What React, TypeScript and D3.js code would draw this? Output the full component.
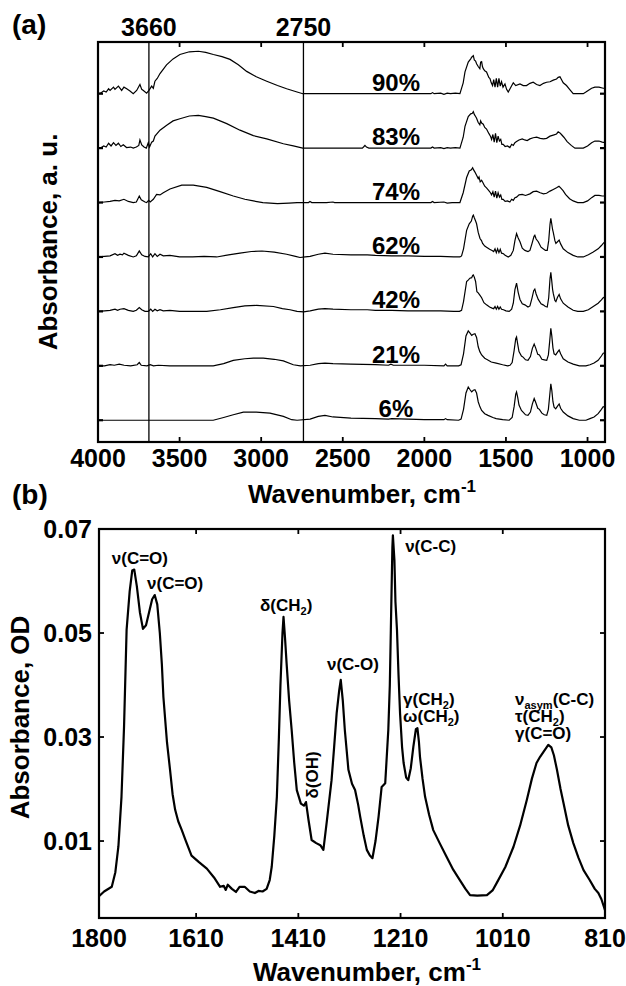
import React from "react";
import * as d3 from "d3";

type Pt = [number, number];

// ---------- Panel (a) data ----------
const waveTicksA = [4000, 3500, 3000, 2500, 2000, 1500, 1000];
const markerPositions = [3688, 2741];
const markerLabels = ["3660", "2750"];
const traceLabels = ["6%", "21%", "42%", "62%", "74%", "83%", "90%"];

const trace6: Pt[] = [
  [4000, 0], [3900, 0.0], [3800, 0.0], [3700, 0.0], [3600, 0.0], [3500, 0.0], [3400, 0.0], [3294, 0.0],
  [3230, 0.05], [3171, 0.1], [3109, 0.15], [3030, 0.15], [2946, 0.13], [2864, 0.07], [2813, 0.01], [2780, 0.0],
  [2700, 0.02], [2650, 0.07], [2609, 0.09], [2560, 0.06], [2450, 0.04], [2300, 0.03], [2220, 0.02], [2200, 0.03],
  [2100, 0.02], [2000, 0.01], [1880, 0.01], [1870, 0.03], [1860, 0.01], [1790, 0.0], [1775, 0.02], [1760, 0.2],
  [1745, 0.5], [1731, 0.61], [1720, 0.56], [1710, 0.52], [1700, 0.55], [1690, 0.56], [1680, 0.5], [1670, 0.34],
  [1660, 0.25], [1649, 0.18], [1630, 0.12], [1610, 0.09], [1580, 0.05], [1560, 0.03], [1520, 0.01], [1480, 0.0],
  [1462, 0.05], [1450, 0.25], [1440, 0.48], [1435, 0.52], [1428, 0.42], [1420, 0.28], [1405, 0.18], [1395, 0.15],
  [1380, 0.1], [1365, 0.09], [1350, 0.15], [1338, 0.3], [1327, 0.4], [1318, 0.33], [1305, 0.22], [1295, 0.2],
  [1280, 0.13], [1265, 0.1], [1250, 0.09], [1240, 0.2], [1232, 0.45], [1225, 0.67], [1219, 0.55], [1212, 0.34],
  [1205, 0.24], [1195, 0.21], [1184, 0.26], [1174, 0.3], [1165, 0.22], [1149, 0.15], [1120, 0.08], [1088, 0.03],
  [1050, 0.0], [1010, 0.0], [985, 0.03], [960, 0.06], [935, 0.12], [915, 0.2], [904, 0.25], [893, 0.24],
];

const trace21: Pt[] = [
  [4000, 0], [3960, 0.0], [3926, 0.02], [3900, 0.01], [3870, 0.03], [3840, 0.01], [3800, 0.0], [3760, 0.02],
  [3747, 0.06], [3735, 0.01], [3700, 0.0], [3680, 0.02], [3660, 0.0], [3630, 0.01], [3560, 0.0], [3400, 0.0],
  [3294, 0.0], [3230, 0.04], [3171, 0.1], [3100, 0.13], [3048, 0.14], [2987, 0.14], [2920, 0.12], [2864, 0.09],
  [2803, 0.02], [2760, 0.0], [2700, 0.01], [2650, 0.04], [2609, 0.05], [2560, 0.04], [2450, 0.03], [2300, 0.02],
  [2220, 0.01], [2205, 0.03], [2190, 0.01], [2100, 0.01], [2000, 0.01], [1880, 0.0], [1870, 0.03], [1860, 0.0],
  [1790, 0.0], [1775, 0.02], [1760, 0.22], [1745, 0.55], [1731, 0.64], [1720, 0.6], [1710, 0.56], [1700, 0.58],
  [1690, 0.59], [1680, 0.52], [1670, 0.35], [1660, 0.26], [1649, 0.2], [1630, 0.14], [1619, 0.12], [1590, 0.07],
  [1560, 0.05], [1520, 0.02], [1490, 0.0], [1475, 0.01], [1462, 0.06], [1450, 0.28], [1440, 0.5], [1435, 0.53],
  [1428, 0.4], [1420, 0.26], [1405, 0.18], [1395, 0.16], [1380, 0.11], [1365, 0.1], [1350, 0.17], [1338, 0.32],
  [1327, 0.4], [1318, 0.33], [1305, 0.21], [1295, 0.2], [1280, 0.12], [1265, 0.11], [1250, 0.1], [1240, 0.2],
  [1232, 0.45], [1225, 0.69], [1219, 0.55], [1212, 0.33], [1205, 0.22], [1195, 0.2], [1184, 0.25], [1174, 0.29],
  [1165, 0.22], [1149, 0.13], [1120, 0.07], [1088, 0.03], [1050, 0.0], [1010, 0.0], [985, 0.02], [960, 0.05],
  [935, 0.1], [915, 0.18], [904, 0.23], [893, 0.24],
];

const trace42: Pt[] = [
  [4000, 0], [3960, 0.01], [3926, 0.02], [3896, 0.04], [3880, 0.02], [3865, 0.04], [3841, 0.05], [3814, 0.02],
  [3784, 0.0], [3765, 0.02], [3747, 0.07], [3732, 0.03], [3712, 0.0], [3692, 0.0], [3677, 0.04], [3665, 0.0],
  [3651, 0.04], [3637, 0.01], [3620, 0.03], [3600, 0.01], [3559, 0.02], [3500, 0.0], [3420, 0.0], [3334, 0.0],
  [3250, 0.03], [3171, 0.07], [3100, 0.1], [3028, 0.11], [2925, 0.09], [2870, 0.05], [2823, 0.03], [2780, 0.0],
  [2740, -0.01], [2700, 0.01], [2650, 0.04], [2609, 0.05], [2560, 0.04], [2450, 0.03], [2350, 0.03], [2300, 0.02],
  [2200, 0.02], [2100, 0.01], [2000, 0.01], [1900, 0.01], [1820, 0.0], [1785, 0.0], [1772, 0.02], [1760, 0.18],
  [1741, 0.55], [1730, 0.58], [1721, 0.61], [1710, 0.62], [1704, 0.66], [1700, 0.67], [1694, 0.63], [1686, 0.55],
  [1678, 0.36], [1670, 0.34], [1660, 0.3], [1649, 0.25], [1635, 0.16], [1619, 0.12], [1600, 0.08], [1585, 0.06],
  [1575, 0.05], [1567, 0.09], [1559, 0.04], [1551, 0.09], [1543, 0.04], [1535, 0.08], [1527, 0.04], [1515, 0.03],
  [1500, 0.01], [1480, 0.0], [1465, 0.04], [1455, 0.15], [1445, 0.4], [1435, 0.52], [1425, 0.35], [1414, 0.22],
  [1400, 0.14], [1384, 0.12], [1365, 0.08], [1353, 0.1], [1340, 0.25], [1330, 0.38], [1323, 0.41], [1315, 0.32],
  [1302, 0.22], [1285, 0.14], [1272, 0.12], [1258, 0.09], [1247, 0.08], [1238, 0.25], [1230, 0.6], [1225, 0.72],
  [1220, 0.58], [1214, 0.4], [1210, 0.33], [1200, 0.2], [1194, 0.18], [1184, 0.26], [1174, 0.31], [1165, 0.23],
  [1149, 0.15], [1120, 0.08], [1088, 0.02], [1060, 0.0], [1026, 0.0], [995, 0.03], [965, 0.09], [935, 0.15],
  [915, 0.21], [904, 0.25], [893, 0.27],
];

const trace62: Pt[] = [
  [4000, 0], [3960, 0.01], [3926, 0.02], [3896, 0.06], [3880, 0.03], [3865, 0.05], [3850, 0.04], [3841, 0.07],
  [3814, 0.03], [3784, 0.0], [3765, 0.02], [3747, 0.11], [3732, 0.04], [3712, 0.01], [3692, 0.0], [3677, 0.06],
  [3665, 0.0], [3651, 0.06], [3637, 0.01], [3620, 0.05], [3600, 0.02], [3559, 0.03], [3500, 0.0], [3420, 0.0],
  [3350, 0.01], [3273, 0.0], [3200, 0.04], [3130, 0.07], [3060, 0.1], [2995, 0.11], [2920, 0.09], [2844, 0.05],
  [2790, 0.01], [2762, -0.01], [2730, 0.0], [2700, 0.01], [2650, 0.05], [2609, 0.07], [2560, 0.05], [2450, 0.04],
  [2350, 0.04], [2300, 0.03], [2200, 0.02], [2100, 0.02], [2000, 0.01], [1900, 0.01], [1820, 0.0], [1782, 0.0],
  [1772, 0.02], [1760, 0.15], [1741, 0.49], [1725, 0.61], [1712, 0.66], [1704, 0.75], [1700, 0.77], [1694, 0.72],
  [1686, 0.66], [1680, 0.61], [1670, 0.45], [1659, 0.34], [1650, 0.3], [1643, 0.25], [1630, 0.2], [1619, 0.18],
  [1600, 0.14], [1585, 0.12], [1575, 0.1], [1567, 0.15], [1559, 0.08], [1551, 0.15], [1543, 0.08], [1535, 0.14],
  [1527, 0.07], [1515, 0.06], [1505, 0.03], [1486, 0.0], [1470, 0.03], [1455, 0.12], [1445, 0.3], [1435, 0.43],
  [1425, 0.35], [1414, 0.28], [1400, 0.16], [1384, 0.12], [1365, 0.1], [1353, 0.12], [1340, 0.25], [1328, 0.38],
  [1323, 0.4], [1315, 0.33], [1302, 0.28], [1285, 0.18], [1272, 0.15], [1258, 0.12], [1247, 0.12], [1238, 0.3],
  [1230, 0.6], [1225, 0.71], [1220, 0.62], [1214, 0.5], [1210, 0.45], [1200, 0.3], [1194, 0.25], [1184, 0.28],
  [1174, 0.31], [1165, 0.24], [1149, 0.15], [1120, 0.08], [1088, 0.03], [1060, 0.0], [1026, 0.0], [995, 0.04],
  [965, 0.09], [935, 0.15], [915, 0.21], [904, 0.25], [893, 0.28],
];

const trace74: Pt[] = [
  [4000, 0], [3960, 0.01], [3926, 0.02], [3896, 0.04], [3870, 0.03], [3841, 0.06], [3814, 0.02], [3784, 0.0],
  [3765, 0.01], [3747, 0.12], [3735, 0.05], [3712, 0.01], [3702, 0.0], [3690, 0.04], [3680, 0.01], [3661, 0.06],
  [3641, 0.15], [3620, 0.14], [3600, 0.18], [3559, 0.25], [3487, 0.32], [3416, 0.32], [3334, 0.28], [3252, 0.2],
  [3171, 0.12], [3100, 0.06], [3048, 0.03], [2990, 0.0], [2900, -0.02], [2830, -0.01], [2780, 0.0], [2745, 0.0],
  [2710, 0.0], [2701, 0.02], [2690, 0.0], [2600, 0.0], [2560, 0.01], [2550, 0.0], [2400, 0.0], [2300, 0.0],
  [2000, 0.0], [1960, 0.0], [1950, 0.02], [1940, 0.0], [1880, 0.01], [1860, -0.01], [1830, 0.0], [1782, 0.0],
  [1762, 0.18], [1741, 0.46], [1725, 0.58], [1712, 0.6], [1704, 0.64], [1698, 0.6], [1690, 0.56], [1680, 0.5],
  [1670, 0.44], [1665, 0.47], [1658, 0.38], [1649, 0.41], [1640, 0.36], [1630, 0.3], [1619, 0.27], [1605, 0.22],
  [1595, 0.18], [1588, 0.14], [1580, 0.2], [1572, 0.1], [1564, 0.21], [1556, 0.08], [1548, 0.18], [1540, 0.1],
  [1532, 0.14], [1525, 0.06], [1517, 0.06], [1505, 0.02], [1490, 0.03], [1476, 0.01], [1465, 0.06], [1455, 0.04],
  [1445, 0.09], [1435, 0.1], [1420, 0.14], [1400, 0.15], [1380, 0.13], [1353, 0.16], [1333, 0.2], [1312, 0.21],
  [1290, 0.18], [1270, 0.16], [1251, 0.17], [1230, 0.21], [1210, 0.24], [1190, 0.27], [1175, 0.3], [1165, 0.27],
  [1150, 0.22], [1135, 0.15], [1110, 0.07], [1088, 0.03], [1060, 0.0], [1026, 0.0], [1000, 0.03], [975, 0.09],
  [955, 0.13], [930, 0.13], [910, 0.12], [893, 0.12],
];

const trace83: Pt[] = [
  [4000, 0], [3985, 0.0], [3965, 0.04], [3950, 0.02], [3935, 0.09], [3920, 0.04], [3905, 0.1], [3890, 0.05],
  [3875, 0.09], [3860, 0.03], [3845, 0.06], [3825, 0.01], [3800, 0.02], [3784, 0.0], [3765, 0.02], [3750, 0.05],
  [3743, 0.15], [3732, 0.06], [3718, 0.02], [3704, 0.0], [3692, 0.1], [3684, 0.02], [3671, 0.11], [3661, 0.13],
  [3651, 0.22], [3620, 0.33], [3579, 0.42], [3540, 0.5], [3498, 0.54], [3440, 0.59], [3385, 0.6], [3340, 0.58],
  [3293, 0.55], [3211, 0.45], [3130, 0.33], [3048, 0.23], [2966, 0.17], [2864, 0.08], [2803, 0.04], [2745, 0.0],
  [2500, 0.0], [2380, 0.0], [2370, 0.03], [2364, 0.05], [2355, 0.02], [2340, 0.0], [2000, 0.0], [1960, 0.0],
  [1950, 0.02], [1940, 0.0], [1900, 0.01], [1880, -0.01], [1860, 0.01], [1840, 0.0], [1810, 0.01], [1782, 0.0],
  [1762, 0.2], [1751, 0.4], [1731, 0.58], [1716, 0.63], [1706, 0.64], [1700, 0.67], [1694, 0.62], [1686, 0.58],
  [1680, 0.55], [1670, 0.47], [1660, 0.43], [1655, 0.5], [1649, 0.46], [1639, 0.44], [1630, 0.38], [1619, 0.35],
  [1605, 0.27], [1595, 0.22], [1588, 0.16], [1580, 0.25], [1572, 0.11], [1564, 0.27], [1556, 0.1], [1548, 0.22],
  [1540, 0.13], [1532, 0.16], [1525, 0.07], [1517, 0.07], [1505, 0.03], [1490, 0.04], [1476, 0.01], [1465, 0.07],
  [1455, 0.05], [1445, 0.1], [1435, 0.12], [1420, 0.15], [1400, 0.17], [1385, 0.15], [1370, 0.14], [1353, 0.17],
  [1333, 0.19], [1312, 0.2], [1290, 0.18], [1270, 0.17], [1251, 0.18], [1230, 0.22], [1210, 0.24], [1190, 0.26],
  [1180, 0.3], [1169, 0.28], [1160, 0.25], [1145, 0.2], [1125, 0.12], [1100, 0.05], [1077, 0.0], [1026, 0.0],
  [1000, 0.04], [975, 0.1], [955, 0.13], [930, 0.13], [910, 0.11], [893, 0.1],
];

const trace90: Pt[] = [
  [4000, 0], [3985, 0.01], [3965, 0.05], [3950, 0.03], [3935, 0.09], [3926, 0.06], [3905, 0.12], [3896, 0.08],
  [3875, 0.14], [3855, 0.06], [3841, 0.12], [3824, 0.09], [3804, 0.05], [3784, 0.0], [3763, 0.06], [3743, 0.17],
  [3732, 0.08], [3722, 0.06], [3702, 0.01], [3688, 0.06], [3671, 0.14], [3661, 0.1], [3651, 0.23], [3637, 0.28],
  [3620, 0.37], [3580, 0.53], [3540, 0.64], [3498, 0.72], [3440, 0.77], [3385, 0.78], [3340, 0.76], [3293, 0.72],
  [3240, 0.68], [3191, 0.63], [3140, 0.53], [3089, 0.41], [3030, 0.31], [2966, 0.23], [2900, 0.15], [2844, 0.09],
  [2790, 0.04], [2745, 0.0], [2400, 0.0], [2000, 0.0], [1960, 0.0], [1950, 0.02], [1940, 0.0], [1900, 0.01],
  [1880, -0.01], [1860, 0.01], [1840, 0.0], [1810, 0.01], [1782, 0.0], [1762, 0.2], [1751, 0.4], [1731, 0.58],
  [1716, 0.64], [1710, 0.67], [1700, 0.7], [1694, 0.62], [1686, 0.6], [1680, 0.55], [1670, 0.5], [1660, 0.46],
  [1655, 0.58], [1649, 0.59], [1644, 0.5], [1639, 0.46], [1630, 0.42], [1619, 0.4], [1605, 0.3], [1598, 0.28],
  [1590, 0.2], [1582, 0.15], [1575, 0.26], [1567, 0.12], [1559, 0.28], [1551, 0.12], [1543, 0.28], [1535, 0.14],
  [1527, 0.22], [1518, 0.12], [1506, 0.18], [1496, 0.08], [1486, 0.03], [1470, 0.12], [1455, 0.2], [1440, 0.15],
  [1414, 0.18], [1394, 0.15], [1374, 0.15], [1353, 0.19], [1333, 0.21], [1312, 0.17], [1292, 0.15], [1270, 0.19],
  [1251, 0.21], [1230, 0.22], [1210, 0.25], [1190, 0.27], [1180, 0.3], [1169, 0.31], [1160, 0.26], [1149, 0.2],
  [1129, 0.15], [1110, 0.08], [1088, 0.0], [1026, 0.0], [1010, 0.03], [996, 0.06], [975, 0.1], [955, 0.12],
  [930, 0.12], [904, 0.1], [893, 0.1],
];

const tracesA: Pt[][] = [trace6, trace21, trace42, trace62, trace74, trace83, trace90];

// ---------- Panel (b) data ----------
const waveTicksB = [1800, 1610, 1410, 1210, 1010, 810];
const odTicks = [0.01, 0.03, 0.05, 0.07];
const spectrumB: Pt[] = [
  [1800, -0.0006], [1790, 0.0003], [1775, 0.0012], [1768, 0.004], [1762, 0.009], [1756, 0.0185], [1751, 0.032],
  [1746, 0.0506], [1740, 0.058], [1735, 0.062], [1731, 0.0622], [1726, 0.059], [1720, 0.054], [1714, 0.0508],
  [1708, 0.0515], [1702, 0.054], [1696, 0.0565], [1691, 0.0573], [1686, 0.0555], [1681, 0.05], [1677, 0.044],
  [1674, 0.0377], [1667, 0.029], [1661, 0.0237], [1656, 0.019], [1651, 0.016], [1645, 0.0138], [1638, 0.0121],
  [1630, 0.01], [1619, 0.0072], [1605, 0.006], [1589, 0.0047], [1575, 0.003], [1563, 0.0012], [1556, 0.0014],
  [1552, 0.0006], [1548, 0.0016], [1540, 0.0008], [1532, 0.0002], [1525, 0.0012], [1515, 0.0012], [1505, 0.0003],
  [1495, 0.0], [1488, 0.0004], [1480, 0.0003], [1472, 0.0008], [1466, 0.0025], [1462, 0.0051], [1457, 0.011],
  [1452, 0.0185], [1448, 0.03], [1445, 0.04], [1441, 0.05], [1439, 0.0531], [1436, 0.049], [1433, 0.0442],
  [1428, 0.037], [1423, 0.0313], [1418, 0.025], [1413, 0.0198], [1405, 0.0172], [1399, 0.0168], [1395, 0.0175],
  [1390, 0.014], [1384, 0.0102], [1375, 0.0096], [1367, 0.0092], [1361, 0.0083], [1354, 0.014], [1345, 0.0217],
  [1340, 0.028], [1335, 0.0346], [1330, 0.039], [1327, 0.041], [1323, 0.037], [1319, 0.0313], [1312, 0.0237],
  [1305, 0.021], [1299, 0.0198], [1293, 0.017], [1289, 0.0147], [1282, 0.011], [1276, 0.0083], [1270, 0.0072],
  [1265, 0.0067], [1259, 0.01], [1253, 0.0147], [1247, 0.0204], [1240, 0.0211], [1234, 0.0313], [1231, 0.04],
  [1229, 0.0506], [1226, 0.0665], [1225, 0.0688], [1222, 0.064], [1220, 0.056], [1217, 0.0506], [1214, 0.042],
  [1211, 0.0346], [1207, 0.028], [1204, 0.025], [1199, 0.0222], [1195, 0.0217], [1190, 0.024], [1185, 0.0281],
  [1180, 0.0315], [1177, 0.0317], [1174, 0.029], [1172, 0.0262], [1167, 0.022], [1162, 0.0185], [1154, 0.015],
  [1146, 0.0121], [1133, 0.0095], [1120, 0.007], [1107, 0.0045], [1094, 0.0025], [1083, 0.0008], [1074, -0.0004],
  [1060, -0.0005], [1041, -0.0004], [1030, 0.0005], [1022, 0.0019], [1005, 0.005], [989, 0.0089], [976, 0.013],
  [963, 0.0179], [953, 0.022], [944, 0.025], [937, 0.0262], [930, 0.0272], [921, 0.0285], [915, 0.028],
  [910, 0.0265], [904, 0.0237], [897, 0.02], [891, 0.0172], [882, 0.013], [872, 0.0096], [862, 0.0068],
  [852, 0.0044], [840, 0.0025], [830, 0.0008], [823, 0.0], [817, -0.0012], [810, -0.0033],
];

const FONT = "'Liberation Sans', Arial, Helvetica, sans-serif";

export default function App() {
  // panel (a) geometry
  const aL = 98, aR = 605, aT = 42, aB = 442;
  const xA = d3.scaleLinear().domain([4000, 893]).range([aL, aR]);
  const yA = d3.scaleLinear().domain([-0.4, 6.95]).range([aB, aT]);

  // panel (b) geometry
  const bL = 99, bR = 605, bT = 529, bB = 918;
  const xB = d3.scaleLinear().domain([1800, 810]).range([bL, bR]);
  const yB = d3.scaleLinear().domain([-0.0048, 0.07]).range([bB, bT]);

  const lineA = (data: Pt[], off: number) =>
    d3.line<Pt>().x((d) => xA(d[0])).y((d) => yA(d[1] + off))(data) || "";
  const lineB = d3.line<Pt>().x((d) => xB(d[0])).y((d) => yB(d[1]))(spectrumB) || "";

  const tickLen = 5;
  const tickSize = 25;
  const titleSize = 26;
  const annSize = 17;
  const subSize = 11;

  return (
    <svg width={626} height={986} style={{ display: "block", position: "absolute", left: 0, top: 0 }}
      fontFamily={FONT} fontWeight="bold">
      <rect x={0} y={0} width={626} height={986} fill="#fff" />
      {/* ================= Panel (a) ================= */}
      <text x={12} y={34} fontSize={28}>(a)</text>
      <defs>
        <clipPath id="clipA"><rect x={aL} y={aT} width={aR - aL} height={aB - aT} /></clipPath>
        <clipPath id="clipB"><rect x={bL} y={bT} width={bR - bL} height={bB - bT} /></clipPath>
      </defs>
      <g clipPath="url(#clipA)">
        {tracesA.map((t, i) => (
          <path key={i} d={lineA(t, i)} fill="none" stroke="#000" strokeWidth={1.2} strokeLinejoin="miter" />
        ))}
      </g>
      {markerPositions.map((p, i) => (
        <g key={i}>
          <line x1={xA(p)} x2={xA(p)} y1={aT} y2={aB} stroke="#000" strokeWidth={1.3} />
          <text x={xA(p)} y={36} fontSize={tickSize} textAnchor="middle">{markerLabels[i]}</text>
        </g>
      ))}
      {traceLabels.map((lab, i) => (
        <text key={lab} x={xA(2174)} y={yA(i) - 3} fontSize={24} textAnchor="middle">{lab}</text>
      ))}
      {/* baseline ticks */}
      {tracesA.map((_, i) => (
        <g key={i}>
          <line x1={aL} x2={aL + tickLen} y1={yA(i)} y2={yA(i)} stroke="#000" strokeWidth={2.2} />
          <line x1={aR} x2={aR - tickLen} y1={yA(i)} y2={yA(i)} stroke="#000" strokeWidth={2.2} />
        </g>
      ))}
      {waveTicksA.map((t) => (
        <g key={t}>
          {t !== 4000 && (
            <>
              <line x1={xA(t)} x2={xA(t)} y1={aB} y2={aB - tickLen} stroke="#000" strokeWidth={1.8} />
              <line x1={xA(t)} x2={xA(t)} y1={aT} y2={aT + tickLen} stroke="#000" strokeWidth={1.8} />
            </>
          )}
          <text x={xA(t)} y={467} fontSize={tickSize} textAnchor="middle">{t}</text>
        </g>
      ))}
      <rect x={aL} y={aT} width={aR - aL} height={aB - aT} fill="none" stroke="#000" strokeWidth={2.2} />
      <text x={362} y={503} fontSize={titleSize} textAnchor="middle">
        Wavenumber, cm<tspan dy={-11} fontSize={17}>-1</tspan>
      </text>
      <text transform={`translate(57,${(aT + aB) / 2}) rotate(-90)`} fontSize={titleSize} textAnchor="middle">
        Absorbance, a. u.
      </text>

      {/* ================= Panel (b) ================= */}
      <text x={12} y={504} fontSize={28}>(b)</text>
      <g clipPath="url(#clipB)">
        <path d={lineB} fill="none" stroke="#000" strokeWidth={2.2} strokeLinejoin="round" />
      </g>
      {waveTicksB.map((t) => (
        <g key={t}>
          {t !== 1800 && t !== 810 && (
            <>
              <line x1={xB(t)} x2={xB(t)} y1={bB} y2={bB - tickLen} stroke="#000" strokeWidth={1.8} />
              <line x1={xB(t)} x2={xB(t)} y1={bT} y2={bT + tickLen} stroke="#000" strokeWidth={1.8} />
            </>
          )}
          <text x={xB(t)} y={947} fontSize={tickSize} textAnchor="middle">{t}</text>
        </g>
      ))}
      {odTicks.map((t) => (
        <g key={t}>
          {t !== 0.07 && (
            <>
              <line x1={bL} x2={bL + tickLen} y1={yB(t)} y2={yB(t)} stroke="#000" strokeWidth={1.8} />
              <line x1={bR} x2={bR - tickLen} y1={yB(t)} y2={yB(t)} stroke="#000" strokeWidth={1.8} />
            </>
          )}
          <text x={92} y={yB(t) + 9} fontSize={tickSize} textAnchor="end">{t.toFixed(2)}</text>
        </g>
      ))}
      <rect x={bL} y={bT} width={bR - bL} height={bB - bT} fill="none" stroke="#000" strokeWidth={2.2} />
      <text x={367} y={981} fontSize={titleSize} textAnchor="middle">
        Wavenumber, cm<tspan dy={-11} fontSize={17}>-1</tspan>
      </text>
      <text transform={`translate(29,${(bT + bB) / 2 - 6}) rotate(-90)`} fontSize={titleSize} textAnchor="middle">
        Absorbance, OD
      </text>

      {/* annotations */}
      <g fontSize={annSize}>
        <text x={xB(1775)} y={yB(0.0633)}>ν(C=O)</text>
        <text x={xB(1706)} y={yB(0.0585)}>ν(C=O)</text>
        <text x={xB(1485)} y={yB(0.0542)}>δ(CH<tspan dy={4} fontSize={subSize}>2</tspan><tspan dy={-4}>)</tspan></text>
        <text x={xB(1201)} y={yB(0.0656)}>ν(C-C)</text>
        <text x={xB(1354)} y={yB(0.0429)}>ν(C-O)</text>
        <text transform={`translate(${xB(1384) + 6},${yB(0.0227)}) rotate(-90)`} textAnchor="middle">δ(OH)</text>
        <text x={xB(1205)} y={yB(0.0362)}>γ(CH<tspan dy={4} fontSize={subSize}>2</tspan><tspan dy={-4}>)</tspan></text>
        <text x={xB(1205)} y={yB(0.0329)}>ω(CH<tspan dy={4} fontSize={subSize}>2</tspan><tspan dy={-4}>)</tspan></text>
        <text x={xB(986)} y={yB(0.0362)}>ν<tspan dy={4} fontSize={subSize}>asym</tspan><tspan dy={-4}>(C-C)</tspan></text>
        <text x={xB(986)} y={yB(0.0329)}>τ(CH<tspan dy={4} fontSize={subSize}>2</tspan><tspan dy={-4}>)</tspan></text>
        <text x={xB(986)} y={yB(0.0296)}>γ(C=O)</text>
      </g>
    </svg>
  );
}
